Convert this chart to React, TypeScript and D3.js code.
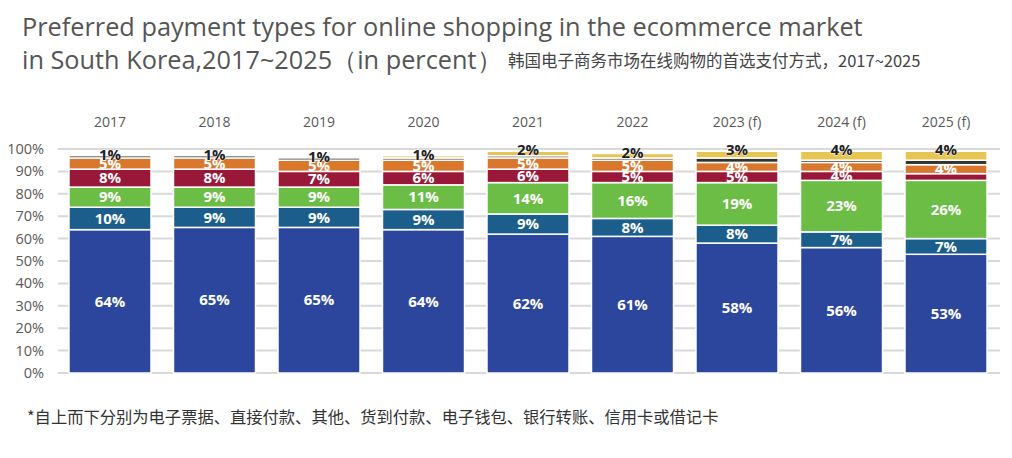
import React from "react";
import * as d3 from "d3";

const years = ["2017", "2018", "2019", "2020", "2021", "2022", "2023 (f)", "2024 (f)", "2025 (f)"];
const creditCard = [64, 65, 65, 64, 62, 61, 58, 56, 53];
const bankTransfer = [10, 9, 9, 9, 9, 8, 8, 7, 7];
const eWallet = [9, 9, 9, 11, 14, 16, 19, 23, 26];
const cashOnDelivery = [8, 8, 7, 6, 6, 5, 5, 4, 3];
const other = [5, 5, 5, 5, 5, 5, 4, 4, 4];
const directDebit = [1, 1, 1, 1, 1, 1, 2, 1, 2];
const eTicket = [0, 0, 0, 1, 2, 2, 3, 4, 4];
const yTicks = [0, 10, 20, 30, 40, 50, 60, 70, 80, 90, 100];

const seriesKeys = ["creditCard", "bankTransfer", "eWallet", "cashOnDelivery", "other", "directDebit", "eTicket"];
const seriesValues: Record<string, number[]> = { creditCard, bankTransfer, eWallet, cashOnDelivery, other, directDebit, eTicket };
const colors: Record<string, string> = {
  creditCard: "#2d469d",
  bankTransfer: "#1b5e8c",
  eWallet: "#6bbd45",
  cashOnDelivery: "#991738",
  other: "#d9772d",
  directDebit: "#333333",
  eTicket: "#e6c552",
};

const W = 1012;
const H = 458;

export default function App() {
  const table = years.map((y, i) => {
    const row: any = { year: y };
    seriesKeys.forEach((k) => (row[k] = seriesValues[k][i]));
    return row;
  });
  const stacked = d3.stack<any>().keys(seriesKeys)(table);
  const x = d3.scaleBand<string>().domain(years).range([58, 998]).paddingInner(0.215).paddingOuter(0.105);
  const y = d3.scaleLinear().domain([0, 100]).range([373, 149]);
  const font = "'Open Sans', 'Noto Sans', sans-serif";
  const cjk = "'Noto Sans CJK SC', 'Noto Sans', sans-serif";

  return (
    <div style={{ position: "absolute", left: 0, top: 0 }}>
      <svg width={W} height={H} style={{ display: "block", background: "#fff" }}>
        <text x={22} y={36} fontFamily={font} fontSize={25.3} fill="#555">
          Preferred payment types for online shopping in the ecommerce market
        </text>
        <text x={22} y={69} fontFamily={font} fontSize={25.3} fill="#555">
          in South Korea,2017~2025（in percent）
        </text>
        <text x={508} y={67} fontFamily={cjk} fontSize={16.5} fill="#444">
          韩国电子商务市场在线购物的首选支付方式，2017~2025
        </text>

        {yTicks.map((t) => (
          <g key={t}>
            <line x1={58} x2={1000} y1={y(t)} y2={y(t)} stroke="#d9d9d9" strokeWidth={2} />
            <text x={44} y={y(t)} dy="0.35em" textAnchor="end" fontFamily={font} fontSize={14.5} fill="#5a5a5a">
              {t}%
            </text>
          </g>
        ))}

        {years.map((yr) => (
          <text key={yr} x={(x(yr) as number) + x.bandwidth() / 2} y={127} textAnchor="middle" fontFamily={font} fontSize={14} fill="#595959">
            {yr}
          </text>
        ))}

        {stacked.map((s) => (
          <g key={s.key}>
            {s.map((d, i) =>
              d[1] - d[0] > 0 ? (
                <rect
                  key={i}
                  x={x(years[i]) as number}
                  width={x.bandwidth()}
                  y={y(d[1])}
                  height={y(d[0]) - y(d[1])}
                  fill={colors[s.key]}
                  stroke="#fff"
                  strokeWidth={1.5}
                />
              ) : null
            )}
          </g>
        ))}

        {stacked.map((s, si) =>
          s.map((d, i) => {
            const v = d[1] - d[0];
            const cx = (x(years[i]) as number) + x.bandwidth() / 2;
            const cy = (y(d[0]) + y(d[1])) / 2;
            const isTop = stacked.slice(si + 1).every((o) => o[i][1] - o[i][0] === 0);
            if (isTop && v > 0) {
              return (
                <text key={s.key + i} x={cx} y={y(d[1]) - 1} dy="0.35em" textAnchor="middle" fontFamily={font} fontWeight={700} fontSize={15}
                  fill="#222" stroke="#fff" strokeWidth={0.8} paintOrder="stroke">
                  {v}%
                </text>
              );
            }
            if (si <= 4 && v >= 4) {
              return (
                <text key={s.key + i} x={cx} y={cy} dy="0.35em" textAnchor="middle" fontFamily={font} fontWeight={700} fontSize={15} fill="#fff">
                  {v}%
                </text>
              );
            }
            return null;
          })
        )}

        <text x={27} y={423} fontFamily={cjk} fontSize={16.3} fill="#333">
          *自上而下分别为电子票据、直接付款、其他、货到付款、电子钱包、银行转账、信用卡或借记卡
        </text>
      </svg>
    </div>
  );
}
